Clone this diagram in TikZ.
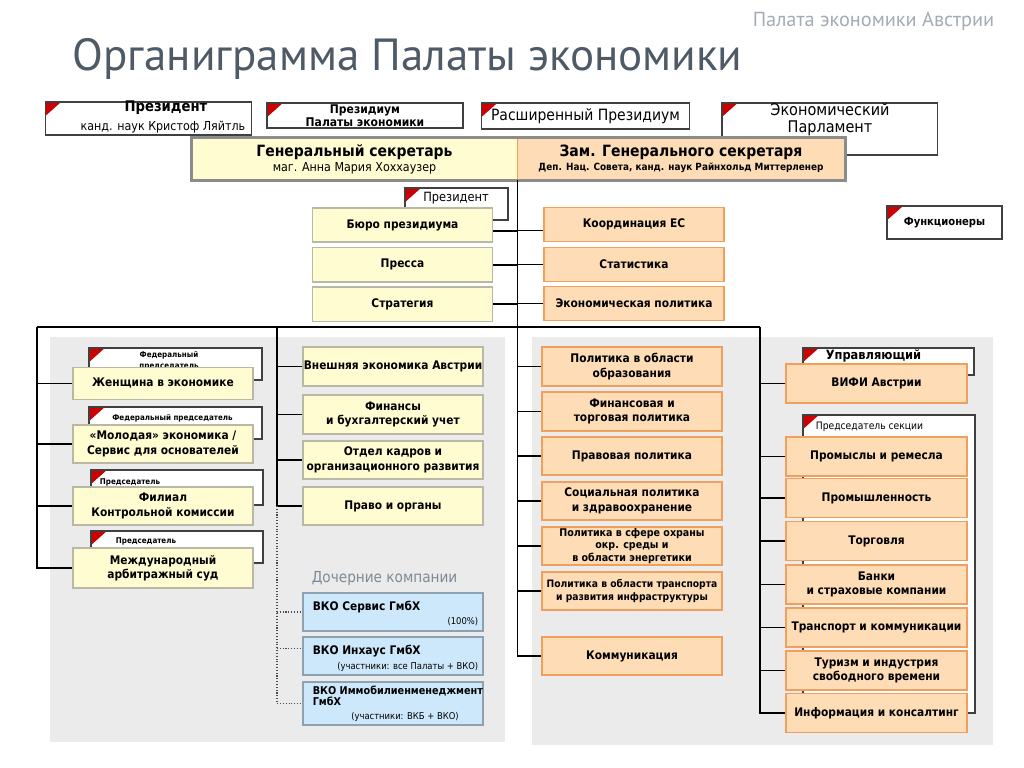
\documentclass[tikz,border=0pt]{standalone}
\usepackage{fontspec}
\setmainfont{DejaVu Sans Condensed}
\newfontfamily\titlefont{PT Sans}
\usetikzlibrary{positioning}

\definecolor{boxyellow}{HTML}{FFFCD2}
\definecolor{yellowline}{HTML}{B9B8A4}
\definecolor{boxpeach}{HTML}{FDDCB6}
\definecolor{peachline}{HTML}{F0A05C}
\definecolor{boxblue}{HTML}{CDE8FB}
\definecolor{blueline}{HTML}{8CA2B2}
\definecolor{panelgray}{HTML}{EBEBEB}
\definecolor{flagred}{HTML}{CC0000}
\definecolor{framegray}{HTML}{8C8C8C}
\definecolor{titleslate}{HTML}{4E5A65}
\definecolor{headgray}{HTML}{A3ABB3}
\definecolor{subslate}{HTML}{7D8A96}

\newcommand\boxfont{\fontsize{6.7}{8.2}\selectfont\bfseries}
\newcommand\tagfont{\fontsize{4.5}{5.6}\selectfont\bfseries}
\newcommand\subfont{\fontsize{7}{8.4}\selectfont}
\newcommand\notefont{\fontsize{5.3}{6}\selectfont}

\begin{document}
\begin{tikzpicture}[
   x=0.5664pt, y=-0.5664pt,
   every node/.style={inner sep=0.8pt, align=center},
   conn/.style={draw=black, line width=0.8pt},
   dots/.style={draw=black!70, densely dotted, line width=0.6pt},
   flag/.style={path picture={\fill[flagred] (path picture bounding box.north west)
                -- ++(9pt,0) -- ++(-9pt,-8pt) -- cycle;}},
   wbox/.style={draw=black!75, fill=white, line width=0.8pt, flag},
   box/.style={rectangle, minimum width=102pt, minimum height=21.5pt,
               line width=0.7pt, inner xsep=0pt, font=\boxfont},
   ybox/.style={box, fill=boxyellow, draw=yellowline},
   obox/.style={box, fill=boxpeach, draw=peachline},
   rbox/.style={obox, minimum width=102.5pt, minimum height=22.1pt},
   bbox/.style={box, fill=boxblue, draw=blueline},
   tagtxt/.style={font=\tagfont}
                    ]
\useasboundingbox (0,0) rectangle (1024,768);

% header and title
\node (head) [anchor=east, text=headgray, font=\titlefont\fontsize{11.5}{13}\selectfont]
     at (996,21) {Палата экономики Австрии};
\node (title) [anchor=west, text=titleslate, font=\titlefont\fontsize{25.5}{28}\selectfont]
     at (71,59) {Органиграмма Палаты экономики};

% grey panels
\fill[panelgray] (50,337) rectangle (505,742);
\fill[panelgray] (532,337) rectangle (993,745);

% top row
\node (pres) [wbox, minimum width=117pt, minimum height=18.7pt] at (148.5,118.5) {};
\node (prestitle) [font=\fontsize{8.3}{9}\selectfont\bfseries] at (166,108) {Президент};
\node (presname) [font=\subfont] at (163,127) {канд. наук Кристоф Ляйтль};
\node (presid) [wbox, minimum width=111pt, minimum height=14.2pt, inner sep=0pt,
                font=\fontsize{6.8}{6.4}\selectfont\bfseries]
     at (365,115.5) {Президиум\\Палаты экономики};
\node (ext) [wbox, minimum width=118pt, minimum height=14.7pt,
             font=\fontsize{8.8}{10}\selectfont] at (585.5,116) {Расширенный Президиум};
\node (parl) [wbox, minimum width=122pt, minimum height=29.5pt] at (829.5,129) {};
\node (parltxt) [font=\fontsize{9.1}{9.8}\selectfont] at (830,119.5) {Экономический\\Парламент};

% secretaries
\node (gen) [fill=boxyellow, minimum width=184pt, minimum height=23.8pt, font=\subfont]
     at (354.5,159)
     {{\fontsize{8.8}{9}\selectfont\bfseries Генеральный секретарь}\\маг. Анна Мария Хоххаузер};
\node (zam) [fill=boxpeach, draw=peachline, minimum width=185.8pt, minimum height=23.8pt,
             font=\fontsize{5.6}{7.9}\selectfont\bfseries]
     at (681,159)
     {{\fontsize{8.8}{9}\selectfont Зам. Генерального секретаря}\\Деп. Нац. Совета, канд. наук Райнхольд Миттерленер};
\draw[line width=1.8pt, framegray] (gen.north west) rectangle (zam.south east);
\coordinate (trunk) at (gen.south east);

% offices
\node (tagpres) [wbox, minimum width=58.3pt, minimum height=18.1pt] at (456.5,204) {};
\node (tagprestxt) [font=\fontsize{7.2}{8}\selectfont] at (456,198.5) {Президент};
\node (buro) [ybox, minimum height=19.3pt] at (402.5,225) {Бюро президиума};
\node (pressa) [ybox, minimum height=19.3pt, below=2.6pt of buro] {Пресса};
\node (strat) [ybox, minimum height=19.3pt, below=2.2pt of pressa] {Стратегия};
\node (koord) [obox, minimum height=19.3pt] at (634,224.5) {Координация ЕС};
\node (stat) [obox, minimum height=19.3pt, below=2.6pt of koord] {Статистика};
\node (econ) [obox, minimum height=19.3pt, below=2.2pt of stat] {Экономическая политика};
\node (funk) [wbox, minimum width=65pt, minimum height=18.7pt,
              font=\fontsize{6.3}{7}\selectfont\bfseries] at (944.5,222.5) {Функционеры};

% chairmen column
\node (tagwom) [wbox, minimum width=98pt, minimum height=18.1pt] at (175.5,364) {};
\node (tagwomtxt) [tagtxt, font=\fontsize{4.5}{6.4}\selectfont\bfseries]
     at (169,360.5) {Федеральный\\председатель};
\node (wom) [ybox, minimum height=18.1pt] at (163,383.5) {Женщина в экономике};
\node (tagyoung) [wbox, minimum width=98pt, minimum height=18.1pt] at (175.5,423) {};
\node (tagyoungtxt) [tagtxt] at (172.5,418) {Федеральный председатель};
\node (young) [ybox] at (163,444) {«Молодая» экономика /\\Сервис для основателей};
\node (tagfil) [wbox, minimum width=97.5pt, minimum height=19.8pt] at (177,487.5) {};
\node (tagfiltxt) [tagtxt] at (130,482) {Председатель};
\node (fil) [ybox] at (163,506) {Филиал\\Контрольной комиссии};
\node (tagintl) [wbox, minimum width=97.5pt, minimum height=18.1pt] at (177,547) {};
\node (tagintltxt) [tagtxt] at (146,541) {Председатель};
\node (intl) [ybox, minimum height=22.7pt] at (163,568) {Международный\\арбитражный суд};

% departments column
\node (foreign) [ybox, minimum height=22.1pt] at (393,366.5) {Внешняя экономика Австрии};
\node (fin) [ybox, minimum height=22.1pt] at (393,414.5) {Финансы\\и бухгалтерский учет};
\node (hr) [ybox] at (393,460) {Отдел кадров и\\организационного развития};
\node (pravo) [ybox] at (393,506) {Право и органы};

% subsidiaries
\node (subsid) [anchor=west, text=subslate, font=\fontsize{8.6}{9}\selectfont]
     at (310,579) {Дочерние компании};
\node (vko1) [bbox] at (393,612) {};
\node (vko1name) [anchor=west, font=\boxfont] at (311,607) {ВКО Сервис ГмбХ};
\node (vko1share) [anchor=east, font=\notefont] at (480,622) {(100\%)};
\node (vko2) [bbox] at (393,656) {};
\node (vko2name) [anchor=west, font=\boxfont] at (311,651) {ВКО Инхаус ГмбХ};
\node (vko2share) [anchor=east, font=\notefont] at (480,667) {(участники: все Палаты + ВКО)};
\node (vko3) [bbox, minimum height=24.4pt] at (393,703.5) {};
\node (vko3name) [anchor=west, align=left, font=\fontsize{6.1}{6.2}\selectfont\bfseries]
     at (311,695.5) {ВКО Иммобилиенменеджмент\\ГмбХ};
\node (vko3share) [font=\notefont] at (405,717) {(участники: ВКБ + ВКО)};

% policy column
\node (edu) [obox, minimum height=22.1pt] at (632,366.5) {Политика в области\\образования};
\node (fintr) [obox, minimum height=22.1pt] at (632,411.5) {Финансовая и\\торговая политика};
\node (law) [obox] at (632,456) {Правовая политика};
\node (soc) [obox] at (632,501) {Социальная политика\\и здравоохранение};
\node (env) [obox, inner ysep=0pt, font=\fontsize{6}{7.2}\selectfont\bfseries]
     at (632,546) {Политика в сфере охраны\\окр. среды и\\в области энергетики};
\node (trans) [obox, font=\fontsize{5.8}{6.9}\selectfont\bfseries]
     at (632,591) {Политика в области транспорта\\и развития инфраструктуры};
\node (komm) [obox] at (632,656) {Коммуникация};

% sections column
\node (tagwifi) [wbox, minimum width=96.9pt, minimum height=15.3pt] at (888.5,361.5) {};
\node (tagwifitxt) [font=\fontsize{7.2}{8}\selectfont\bfseries] at (873.5,356) {Управляющий};
\node (wifi) [rbox] at (876.5,383.5) {ВИФИ Австрии};
\node (tagsec) [wbox, minimum width=97.4pt, minimum height=168.8pt] at (889,564) {};
\node (tagsectxt) [font=\fontsize{5.8}{7}\selectfont] at (869.5,427) {Председатель секции};
\node (craft) [rbox] at (876.5,456.5) {Промыслы и ремесла};
\node (ind) [rbox] at (876.5,498) {Промышленность};
\node (trade) [rbox] at (876.5,541) {Торговля};
\node (bank) [rbox] at (876.5,584.5) {Банки\\и страховые компании};
\node (transp) [rbox] at (876.5,627.5) {Транспорт и коммуникации};
\node (tour) [rbox] at (876.5,670.5) {Туризм и индустрия\\свободного времени};
\node (info) [rbox] at (876.5,713) {Информация и консалтинг};

% connectors
\coordinate (barL) at (37,327);
\coordinate (barM) at (277,327);
\coordinate (barR) at (760,327);
\draw[conn] (barL) -- (barR);
\draw[conn] (trunk) |- (komm.west);
\draw[conn] ([yshift=-3.4pt]buro.east) -- ([yshift=-3.4pt]buro.east -| trunk);
\draw[conn] ([yshift=-3.4pt]koord.west -| trunk) -- ([yshift=-3.4pt]koord.west);
\foreach \n in {pressa,strat}
   \draw[conn] (\n.east) -- (\n.east -| trunk);
\foreach \n in {stat,econ,edu,fintr,law,soc,env,trans}
   \draw[conn] (trunk |- \n.west) -- (\n.west);
\draw[conn] (barL) |- (intl.west);
\foreach \n in {wom,young,fil}
   \draw[conn] (barL |- \n.west) -- (\n.west);
\draw[conn] (barM) |- (pravo.west);
\foreach \n in {foreign,fin,hr}
   \draw[conn] (barM |- \n.west) -- (\n.west);
\draw[conn] (barR) |- (info.west);
\foreach \n in {wifi,craft,ind,trade,bank,transp,tour}
   \draw[conn] (barR |- \n.west) -- (\n.west);
\draw[dots] (barM |- pravo.west) |- (vko3.west);
\draw[dots] (barM |- vko1.west) -- (vko1.west);
\draw[dots] ([yshift=4.5pt]vko2.west -| barM) -- ([yshift=4.5pt]vko2.west);
\end{tikzpicture}
\end{document}
